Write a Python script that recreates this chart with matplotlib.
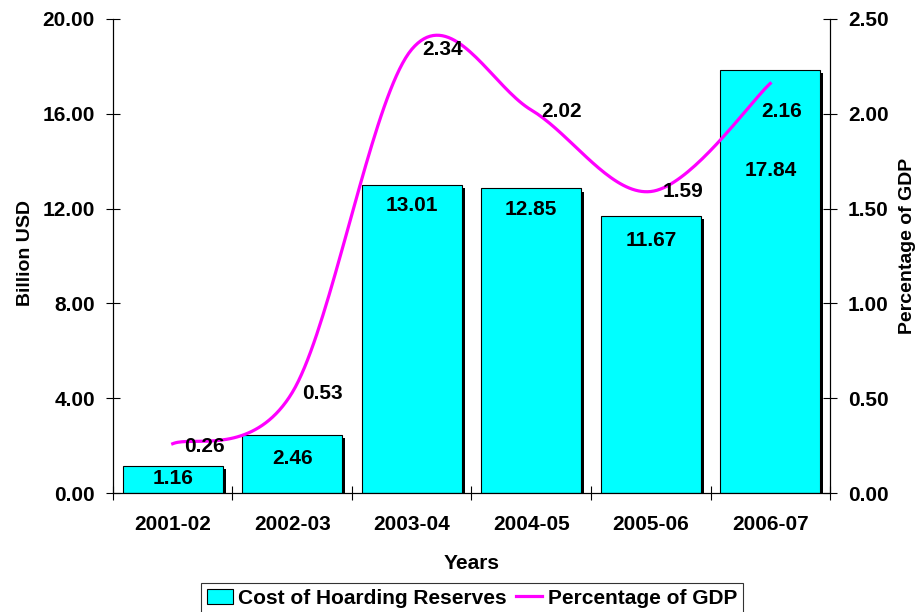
import numpy as np
import matplotlib
matplotlib.use("Agg")
import matplotlib.pyplot as plt
import matplotlib.patheffects as pe
from matplotlib.ticker import FormatStrFormatter, FixedLocator
from matplotlib.lines import Line2D
from matplotlib.patches import Patch

years = ["2001-02", "2002-03", "2003-04", "2004-05", "2005-06", "2006-07"]
cost_busd = [1.16, 2.46, 13.01, 12.85, 11.67, 17.84]
pct_gdp = [0.26, 0.53, 2.34, 2.02, 1.59, 2.16]

# label offsets (points) as the labels sit in the original
cost_offsets = [(0, -9), (0, -17), (0, -15), (0, -15), (0, -17), (0, -72)]
pct_offsets = [(23, -2), (22, -1), (22, 0), (22, -1), (23, 0), (8, -20)]

plt.rcParams["font.family"] = ["Liberation Sans", "DejaVu Sans"]
plt.rcParams["font.weight"] = "bold"
FS = 15      # horizontal text
FS_V = 14    # rotated axis titles


def smooth(xs, ys, n=40):
    # Excel-like smoothed line: Catmull-Rom style bezier segments
    pts = np.column_stack([xs, ys]).astype(float)
    out = []
    for i in range(len(pts) - 1):
        p0 = pts[max(i - 1, 0)]
        p1 = pts[i]
        p2 = pts[i + 1]
        p3 = pts[min(i + 2, len(pts) - 1)]
        c1 = p1 + (p2 - p0) / 6.0
        c2 = p2 - (p3 - p1) / 6.0
        t = np.linspace(0, 1, n)[:, None]
        seg = ((1 - t) ** 3) * p1 + 3 * ((1 - t) ** 2) * t * c1 \
            + 3 * (1 - t) * t ** 2 * c2 + t ** 3 * p2
        out.append(seg if i == 0 else seg[1:])
    out = np.vstack(out)
    return out[:, 0], out[:, 1]


fig = plt.figure(figsize=(9.2, 6.12), dpi=100)
ax = fig.add_axes([0.1228, 0.1944, 0.7794, 0.7746])
x = np.arange(len(years))

bars = ax.bar(x, cost_busd, width=0.835, color="#00FFFF",
              edgecolor="black", linewidth=0.8, zorder=2)
for b in bars:
    b.set_path_effects([pe.SimplePatchShadow(offset=(2.2, -2.2),
                                             shadow_rgbFace="black", alpha=1),
                        pe.Normal()])
for xi, v, off in zip(x, cost_busd, cost_offsets):
    ax.annotate(f"{v:.2f}", (xi, v), xytext=off,
                textcoords="offset points", ha="center", va="center",
                fontsize=FS, fontweight="bold", zorder=5)

ax.set_xlim(-0.5, len(years) - 0.5)
ax.set_ylim(0, 20)
ax.yaxis.set_major_locator(FixedLocator([0, 4, 8, 12, 16, 20]))
ax.yaxis.set_major_formatter(FormatStrFormatter("%.2f"))
ax.set_xticks(x)
ax.set_xticklabels(years)
ax.set_xticks(np.arange(-0.5, len(years)), minor=True)
ax.tick_params(axis="x", which="major", length=0, pad=16, labelsize=FS)
ax.tick_params(axis="x", which="minor", direction="inout", length=10, width=0.8)
ax.tick_params(axis="y", direction="inout", length=10, width=0.8,
               pad=8, labelsize=FS)
ax.spines["top"].set_visible(False)
for s in ("left", "bottom", "right"):
    ax.spines[s].set_linewidth(0.8)

ax2 = ax.twinx()
ax2.set_ylim(0, 2.5)
ax2.yaxis.set_major_locator(FixedLocator([0, 0.5, 1.0, 1.5, 2.0, 2.5]))
ax2.yaxis.set_major_formatter(FormatStrFormatter("%.2f"))
ax2.tick_params(axis="y", direction="inout", length=10, width=0.8,
                pad=8, labelsize=FS)
ax2.spines["top"].set_visible(False)
ax2.spines["right"].set_linewidth(0.8)

sx, sy = smooth(x, pct_gdp)
ax2.plot(sx, sy, color="#FF00FF", linewidth=2.3, zorder=3)
for xi, v, off in zip(x, pct_gdp, pct_offsets):
    ax2.annotate(f"{v:.2f}", (xi, v), xytext=off, textcoords="offset points",
                 ha="center", va="center", fontsize=FS, fontweight="bold")

fig.text(0.028, 0.587, "Billion USD", rotation=90, ha="center", va="center",
         fontsize=FS_V, fontweight="bold")
fig.text(0.986, 0.598, "Percentage of GDP", rotation=90, ha="center",
         va="center", fontsize=FS_V, fontweight="bold")
fig.text(0.513, 0.080, "Years", ha="center", va="center",
         fontsize=FS, fontweight="bold")

handles = [Patch(facecolor="#00FFFF", edgecolor="black", linewidth=0.8,
                 label="Cost of Hoarding Reserves"),
           Line2D([], [], color="#FF00FF", linewidth=2.3,
                  label="Percentage of GDP")]
leg = fig.legend(handles=handles, loc="upper center",
                 bbox_to_anchor=(0.513, 0.048), ncol=2,
                 frameon=True, fancybox=False, handlelength=1.25,
                 handleheight=0.75, handletextpad=0.25, columnspacing=0.45,
                 borderpad=0.3, borderaxespad=0,
                 prop={"weight": "bold", "size": FS})
leg.get_frame().set_edgecolor("black")
leg.get_frame().set_linewidth(0.8)

fig.savefig("out.png", dpi=100)
